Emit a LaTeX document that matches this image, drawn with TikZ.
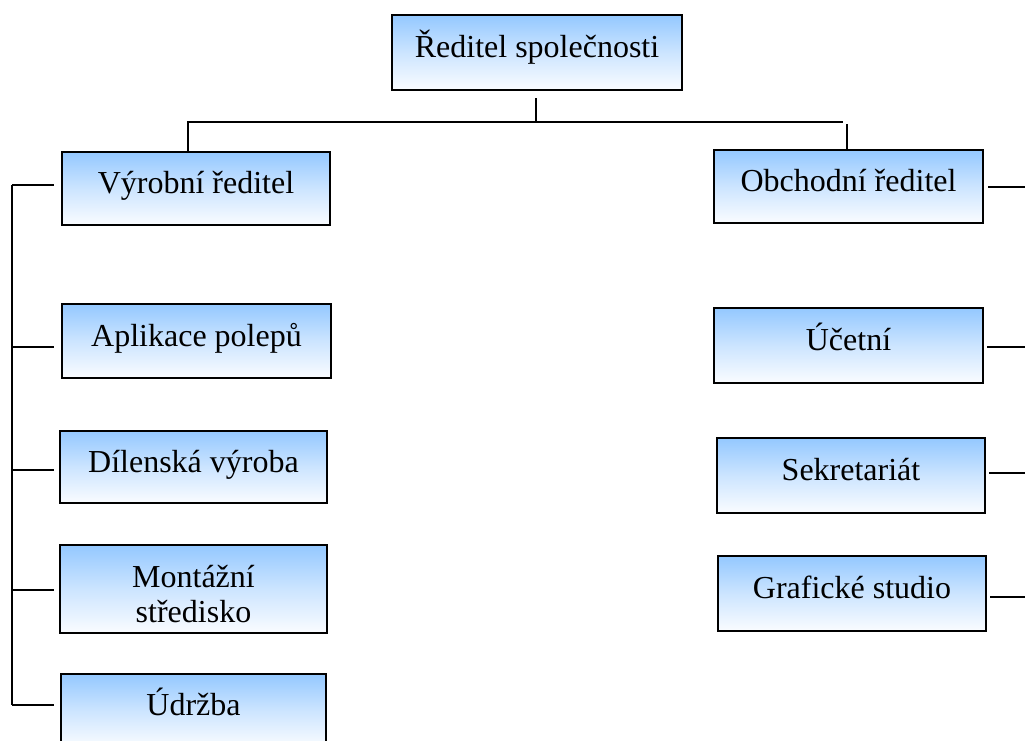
\documentclass[tikz,border=0pt]{standalone}
\usepackage{fontspec}
\setmainfont{Liberation Serif}
\definecolor{boxblue}{RGB}{148,200,255}
\definecolor{boxlow}{RGB}{250,252,255}
\tikzset{
  orgbox/.style={draw=black, line width=2pt, top color=boxblue, bottom color=boxlow,
    middle color=boxblue!45!boxlow, inner sep=0pt, align=center,
    font=\fontsize{32}{36}\selectfont},
  oneline/.style={text height=23pt, text depth=13pt},
  link/.style={draw=black, line width=1.8pt}
}
\begin{document}
\begin{tikzpicture}[x=1pt,y=-1pt]
\clip (0,0) rectangle (1025,740);
\fill[white] (0,0) rectangle (1025,740);
% boxes
\node[orgbox, oneline, minimum width=290pt, minimum height=75pt] (top) at (537,52.5) {Ředitel společnosti};
\node[orgbox, oneline, minimum width=268pt, minimum height=73pt] (vyr) at (196,188.5) {Výrobní ředitel};
\node[orgbox, oneline, minimum width=269pt, minimum height=73pt] (obch) at (848.5,186.5) {Obchodní ředitel};
\node[orgbox, oneline, minimum width=269pt, minimum height=74pt] (apl) at (196.5,341) {Aplikace polepů};
\node[orgbox, oneline, minimum width=267pt, minimum height=72pt] (dil) at (193.5,467) {Dílenská výroba};
\node[orgbox, minimum width=267pt, minimum height=88pt] (mon) at (193.5,589) {};
\node[font=\fontsize{32}{35}\selectfont, align=center, inner sep=0pt, anchor=base] (mont) at (193.5,622) {Montážní\\středisko};
\node[orgbox, minimum width=265pt, minimum height=73pt] (udr) at (193.5,710.5) {};
\node[font=\fontsize{32}{36}\selectfont, inner sep=0pt, anchor=base] (udrt) at (193.5,715) {Údržba};
\node[orgbox, oneline, minimum width=269pt, minimum height=75pt] (uce) at (848.5,345.5) {Účetní};
\node[orgbox, oneline, minimum width=268pt, minimum height=75pt] (sek) at (851,475.5) {Sekretariát};
\node[orgbox, oneline, minimum width=268pt, minimum height=75pt] (gra) at (852,593.5) {Grafické studio};
% top bus
\coordinate (busM) at (536,122);
\coordinate (busL) at (188,122);
\coordinate (busR) at (843,122);
\coordinate (dropR) at (847,124);
\draw[link] ([yshift=-7pt]top.south -| busM) -- (busM);
\draw[link] (busL |- vyr.north) -- (busL) -- (busR);
\draw[link] (dropR) -- ([yshift=-1pt]dropR |- obch.north);
% left spine
\coordinate (L1) at (12,185);
\coordinate (L2) at (12,347);
\coordinate (L3) at (12,470);
\coordinate (L4) at (12,590);
\coordinate (L5) at (12,705);
\draw[link] (L1) -- (L5);
\draw[link, shorten >=7pt] (L1) -- (L1 -| vyr.west);
\draw[link, shorten >=7pt] (L2) -- (L2 -| apl.west);
\draw[link, shorten >=5pt] (L3) -- (L3 -| dil.west);
\draw[link, shorten >=5pt] (L4) -- (L4 -| mon.west);
\draw[link, shorten >=6pt] (L5) -- (L5 -| udr.west);
% right ticks
\coordinate (R1) at (1025,187);
\coordinate (R2) at (1025,347);
\coordinate (R3) at (1025,473);
\coordinate (R4) at (1025,597);
\draw[link, shorten <=4pt] (R1 -| obch.east) -- (R1);
\draw[link, shorten <=3pt] (R2 -| uce.east) -- (R2);
\draw[link, shorten <=3pt] (R3 -| sek.east) -- (R3);
\draw[link, shorten <=3pt] (R4 -| gra.east) -- (R4);
\end{tikzpicture}
\end{document}
